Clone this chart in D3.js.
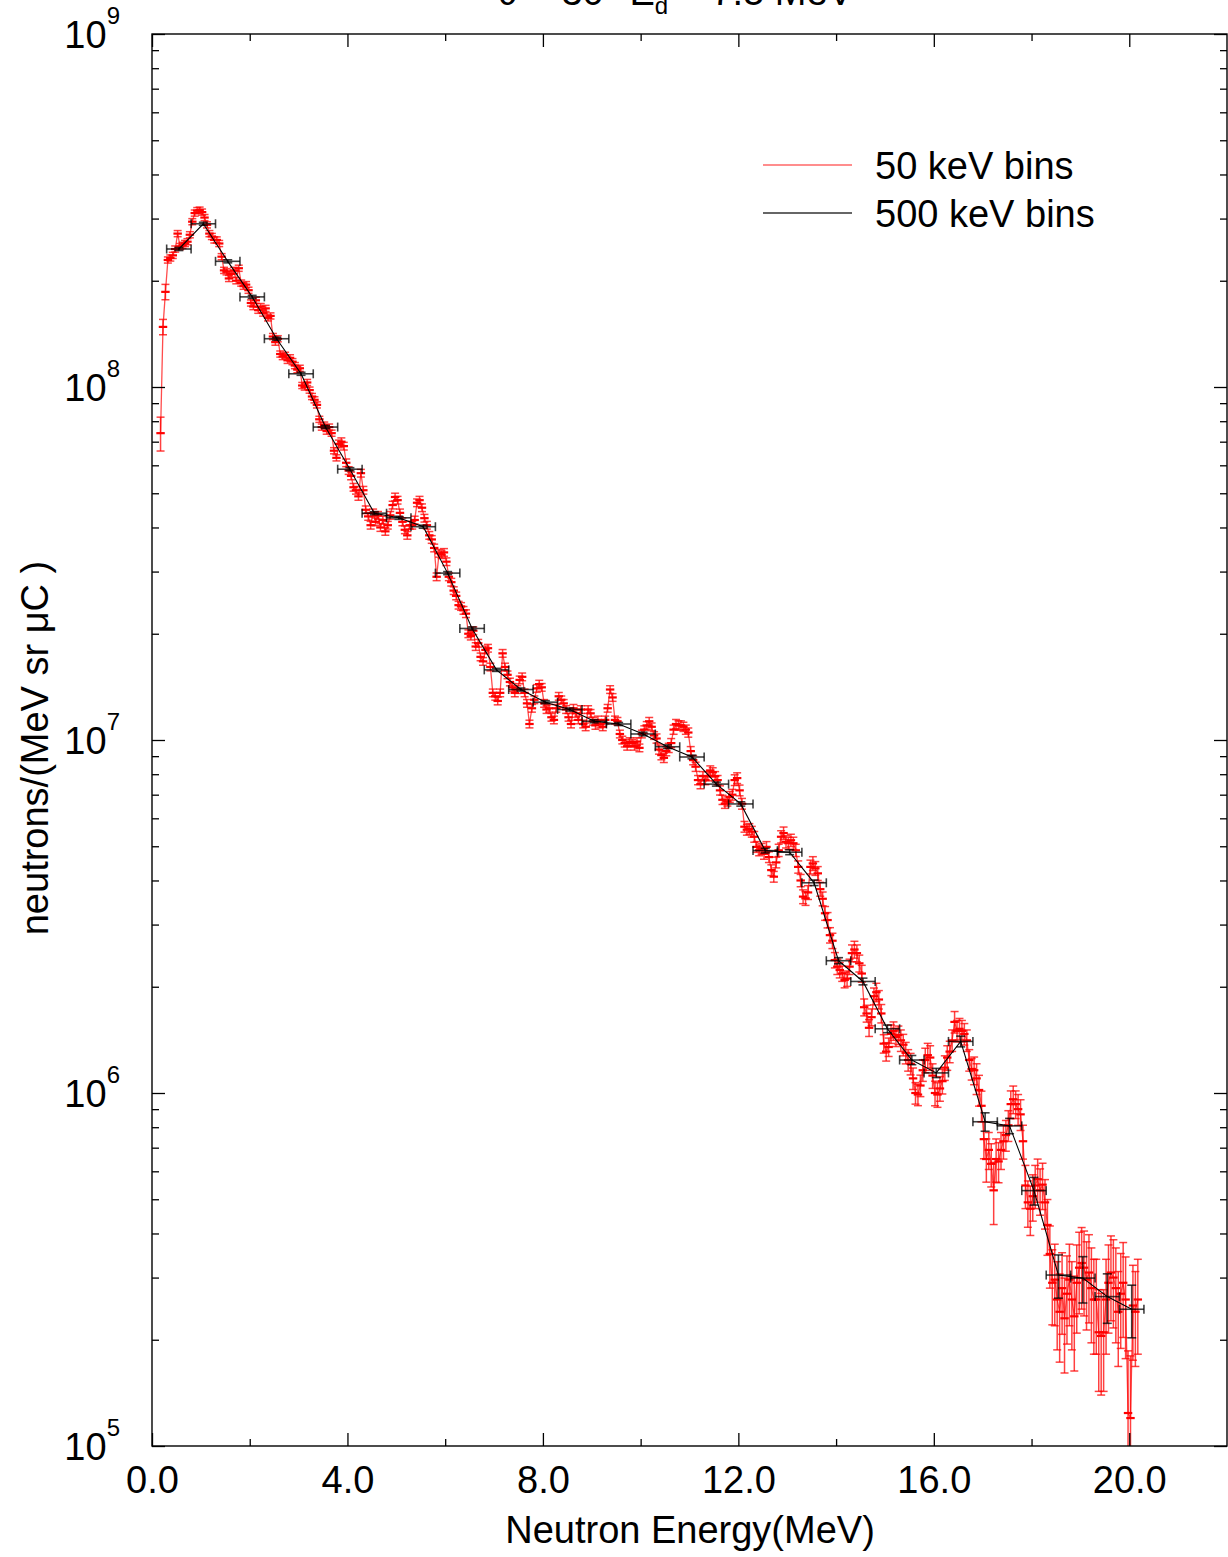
<!DOCTYPE html>
<html>
<head>
<meta charset="utf-8">
<script src="https://cdn.jsdelivr.net/npm/d3@7"></script>
<style>
  body { margin: 0; background: #fff; }
  svg { display: block; }
  text { font-family: "Liberation Sans", Arial, Helvetica, sans-serif; fill: #000; }
</style>
</head>
<body>
<svg></svg>
<script>
const width = 1228;
const height = 1557;

// bin centres (MeV)
const redStart = 0.175, redStep = 0.05;    // 50 keV bins
const blackStart = 0.55, blackStep = 0.5;  // 500 keV bins
const fluxUnit = 1e6;                      // values below are in 1e6 n/(MeV sr uC)

// 50 keV bins, one row per 500 keV block
const redFlux = [
  74, 148, 186,
  229, 232, 236, 246, 272, 250, 252, 255, 258, 270,
  294, 311, 316, 317, 313, 302, 288, 272, 267, 261,
  261, 255, 234, 214, 212, 203, 209, 214, 200, 217,
  197, 193, 195, 188, 173, 169, 176, 165, 169, 162,
  167, 157, 159, 139, 134, 137, 124, 122, 123, 119,
  121, 118, 115, 112, 113, 101, 100, 103, 98, 94,
  92, 89, 81, 77, 78, 75, 77, 74, 66, 63,
  69, 70, 68, 61, 58, 56, 52, 51, 49, 57,
  51, 44.9, 43, 40.6, 44, 41.5, 43.3, 40, 42, 39,
  40.6, 43.3, 46.3, 48.8, 47.8, 44, 41.5, 39.4, 38, 40.6,
  40.6, 42, 47, 47.8, 45.5, 42.5, 40.6, 38, 37, 35,
  29, 33.8, 33.5, 34, 32, 29, 28, 26.5, 25.6, 24.1,
  23.9, 23.3, 22.8, 20, 19.7, 20.4, 18.4, 18.8, 17.2, 16.7,
  18.0, 18.2, 16.1, 13.6, 13.3, 12.9, 13.6, 17.6, 16.1, 15.3,
  14.6, 14.1, 13.6, 13.9, 14.8, 15.1, 13.6, 12.7, 11.1, 12.3,
  13.0, 14.0, 14.4, 14.1, 12.7, 12.2, 12.3, 11.6, 11.4, 12.3,
  13.3, 13.0, 12.7, 12.2, 11.6, 11.1, 12.3, 11.9, 11.4, 12.2,
  11.1, 10.9, 12.2, 11.9, 11.3, 11.0, 11.4, 11.1, 10.9, 11.4,
  12.3, 13.9, 13.2, 11.4, 11.3, 10.4, 10.0, 9.8, 9.6, 9.9,
  9.8, 9.6, 9.9, 9.5, 10.4, 10.7, 11.0, 11.3, 10.9, 10.3,
  10.1, 9.4, 9.06, 8.9, 9.3, 9.5, 9.8, 10.7, 11.1, 11.0,
  11.0, 10.9, 10.7, 10.5, 9.3, 8.77, 8.4, 7.7, 7.5, 7.9,
  7.7, 7.9, 8.2, 8.1, 7.9, 7.7, 7.2, 6.77, 6.6, 6.7,
  6.9, 7.0, 7.7, 7.8, 7.2, 6.6, 5.68, 5.57, 5.6, 5.5,
  5.32, 4.98, 4.87, 4.92, 4.76, 4.98, 4.66, 4.28, 4.1, 4.5,
  4.87, 5.32, 5.45, 5.15, 5.1, 5.2, 5.1, 4.87, 4.37, 4.0,
  3.6, 3.56, 3.7, 4.37, 4.47, 4.33, 4.19, 3.78, 3.55, 3.23,
  3.09, 2.8, 2.7, 2.38, 2.28, 2.23, 2.18, 2.09, 2.11, 2.28,
  2.49, 2.55, 2.49, 2.33, 2.18, 1.75, 1.68, 1.53, 1.64, 1.88,
  1.93, 1.84, 1.68, 1.38, 1.31, 1.35, 1.47, 1.50, 1.44, 1.46,
  1.41, 1.37, 1.30, 1.24, 1.21, 1.10, 1.0, 0.99, 1.05, 1.16,
  1.24, 1.28, 1.26, 1.12, 1.0, 0.99, 1.03, 1.08, 1.18, 1.26,
  1.31, 1.41, 1.59, 1.5, 1.52, 1.5, 1.47, 1.41, 1.24, 1.17,
  1.16, 1.10, 1.02, 0.92, 0.74, 0.65, 0.69, 0.63, 0.53, 0.65,
  0.64, 0.69, 0.73, 0.76, 0.81, 0.93, 0.96, 0.93, 0.90, 0.87,
  0.73, 0.547, 0.49, 0.47, 0.51, 0.547, 0.57, 0.53, 0.55, 0.49,
  0.423, 0.35, 0.29, 0.296, 0.26, 0.24, 0.28, 0.23, 0.27, 0.296,
  0.26, 0.233, 0.29, 0.32, 0.33, 0.32, 0.296, 0.31, 0.28, 0.26,
  0.26, 0.21, 0.205, 0.21, 0.26, 0.29, 0.31, 0.30, 0.28, 0.24,
  0.27, 0.29, 0.26, 0.124, 0.12, 0.25, 0.24, 0.26
];

// relative errors of the 50 keV bins, percent
const redErrPct = [
  11, 5, 5,
  2, 2, 2, 2, 2, 2, 2, 2, 2, 2,
  2, 2, 2, 2, 2, 2, 2, 2, 2, 2,
  2, 2, 2, 2, 2, 2, 2, 2, 2, 2,
  2, 2, 2, 2, 2, 2, 2, 2, 2, 2,
  2, 2, 2, 2, 2, 2, 2, 2, 2, 2,
  2, 2, 2, 2, 2, 2, 2, 2, 2, 2,
  2, 2, 2, 2, 2, 2, 2, 2, 2, 2,
  2.5, 2.5, 2.5, 2.5, 2.5, 2.5, 2.5, 2.5, 2.5, 2.5,
  2.5, 2.5, 2.5, 2.5, 2.5, 2.5, 2.5, 2.5, 2.5, 2.5,
  2.5, 2.5, 2.5, 2.5, 2.5, 2.5, 2.5, 2.5, 2.5, 2.5,
  2.5, 2.5, 2.5, 2.5, 2.5, 2.5, 2.5, 2.5, 2.5, 2.5,
  2.5, 2.5, 2.5, 2.5, 2.5, 2.5, 2.5, 2.5, 2.5, 2.5,
  2.5, 2.5, 2.5, 2.5, 2.5, 2.5, 2.5, 2.5, 2.5, 2.5,
  2.5, 2.5, 2.5, 2.5, 2.5, 2.5, 2.5, 2.5, 2.5, 2.5,
  2.5, 2.5, 2.5, 2.5, 2.5, 2.5, 2.5, 2.5, 2.5, 2.5,
  2.5, 2.5, 2.5, 2.5, 2.5, 2.5, 2.5, 2.5, 2.5, 2.5,
  2.5, 2.5, 2.5, 2.5, 2.5, 2.5, 2.5, 2.5, 2.5, 2.5,
  2.5, 2.5, 2.5, 2.5, 2.5, 2.5, 2.5, 2.5, 2.5, 2.5,
  2.5, 2.5, 2.5, 2.5, 2.5, 2.5, 2.5, 2.5, 2.5, 2.5,
  2.5, 2.5, 2.5, 2.5, 2.5, 2.5, 2.5, 2.5, 2.5, 2.5,
  3, 3, 3, 3, 3, 3, 3, 3, 3, 3,
  3, 3, 3, 3, 3, 3, 3, 3, 3, 3,
  3, 3, 3, 3, 3, 3, 3, 3, 3, 3,
  3.5, 3.5, 3.5, 3.5, 3.5, 3.5, 3.5, 3.5, 3.5, 3.5,
  3.5, 3.5, 3.5, 3.5, 3.5, 3.5, 3.5, 3.5, 3.5, 3.5,
  4, 4, 4, 4, 4, 4, 4, 4, 4, 4,
  4.5, 4.5, 4.5, 4.5, 4.5, 4.5, 4.5, 4.5, 4.5, 4.5,
  5, 5, 5, 5, 5, 5, 5, 5, 5, 5,
  5.5, 5.5, 5.5, 5.5, 5.5, 5.5, 5.5, 5.5, 5.5, 5.5,
  6, 6, 6, 6, 6, 6, 6, 6, 6, 6,
  7, 7, 7, 7, 7, 7, 7, 7, 7, 7,
  8, 8, 8, 8, 8, 8, 8, 8, 8, 8,
  7, 7, 7, 7, 7, 7, 7, 7, 7, 7,
  9, 10, 10, 10, 12, 14, 12, 14, 20, 14,
  13, 12, 11, 10, 10, 9, 9, 9, 10, 10,
  11, 14, 15, 16, 15, 14, 14, 15, 15, 16,
  18, 20, 24, 26, 28, 28, 26, 30, 28, 26,
  28, 30, 28, 26, 26, 27, 28, 28, 30, 30,
  30, 32, 32, 32, 30, 28, 27, 28, 30, 30,
  30, 30, 32, 50, 50, 30, 30, 30
];

// 500 keV bins
const blackFlux = [
  246, 290, 227, 180, 137, 109, 77.0, 58.5, 43.9, 42.6,
  40.2, 29.7, 20.7, 15.8, 13.9, 12.8, 12.2, 11.3, 11.1, 10.4,
  9.57, 8.95, 7.50, 6.59, 4.86, 4.81, 3.94, 2.37, 2.07, 1.52,
  1.24, 1.14, 1.40, 0.829, 0.807, 0.529, 0.305, 0.299, 0.265, 0.244
];
const blackErrPct = [
  1, 1, 1, 1, 1, 1, 1, 1, 1, 1,
  1, 1, 1, 1, 1, 1, 1, 1, 1, 1.2,
  1.2, 1.2, 1.3, 1.4, 1.5, 1.6, 1.8, 2, 2.2, 2.5,
  3, 3, 3.5, 6, 5, 9, 14, 15, 16, 17
];

// axes
const xMajorTicks = [0, 4, 8, 12, 16, 20];
const xMinorTicks = [2, 6, 10, 14, 18];
const yDecades = [5, 6, 7, 8, 9];
const yMantissas = [2, 3, 4, 5, 6, 7, 8, 9];

const legendItems = [
  { label: "50 keV bins", color: "#ff0000" },
  { label: "500 keV bins", color: "#000000" }
];

const svg = d3.select("svg")
  .attr("width", width)
  .attr("height", height);

const plot = { left: 152, right: 1227, top: 34, bottom: 1446 };

const x = d3.scaleLinear().domain([0, 22]).range([plot.left, plot.right]);
const y = d3.scaleLog().domain([1e5, 1e9]).range([plot.bottom, plot.top]);

const red = redFlux.map((v, i) => ({
  e: redStart + i * redStep,
  v: v * fluxUnit,
  err: v * fluxUnit * redErrPct[i] / 100
}));
const black = blackFlux.map((v, i) => ({
  e: blackStart + i * blackStep,
  v: v * fluxUnit,
  err: v * fluxUnit * blackErrPct[i] / 100
}));

svg.append("clipPath").attr("id", "clip")
  .append("rect")
  .attr("x", plot.left).attr("y", plot.top)
  .attr("width", plot.right - plot.left)
  .attr("height", plot.bottom - plot.top);

const line = d3.line().x(d => x(d.e)).y(d => y(d.v));

// 50 keV series
const gRed = svg.append("g").attr("clip-path", "url(#clip)");

gRed.append("path")
  .datum(red)
  .attr("d", line)
  .attr("fill", "none")
  .attr("stroke", "#ff0000")
  .attr("stroke-opacity", 0.7)
  .attr("stroke-width", 1.3);

const redPts = gRed.selectAll("g.rp")
  .data(red)
  .join("g")
  .attr("class", "rp")
  .attr("stroke", "#ff0000")
  .attr("stroke-opacity", 0.75)
  .attr("stroke-width", 1.5);

redPts.append("line")
  .attr("x1", d => x(d.e)).attr("x2", d => x(d.e))
  .attr("y1", d => y(d.v + d.err)).attr("y2", d => y(d.v - d.err));
redPts.append("line")
  .attr("x1", d => x(d.e) - 4).attr("x2", d => x(d.e) + 4)
  .attr("y1", d => y(d.v + d.err)).attr("y2", d => y(d.v + d.err));
redPts.append("line")
  .attr("x1", d => x(d.e) - 4).attr("x2", d => x(d.e) + 4)
  .attr("y1", d => y(d.v - d.err)).attr("y2", d => y(d.v - d.err));
redPts.append("line")
  .attr("x1", d => x(d.e - redStep / 2) - 3).attr("x2", d => x(d.e + redStep / 2) + 3)
  .attr("y1", d => y(d.v)).attr("y2", d => y(d.v))
  .attr("stroke-opacity", 1)
  .attr("stroke-width", 2.2);

// 500 keV series
const gBlack = svg.append("g").attr("clip-path", "url(#clip)");

gBlack.append("path")
  .datum(black)
  .attr("d", line)
  .attr("fill", "none")
  .attr("stroke", "#000")
  .attr("stroke-width", 1.1);

const blackPts = gBlack.selectAll("g.bp")
  .data(black)
  .join("g")
  .attr("class", "bp")
  .attr("stroke", "#000")
  .attr("stroke-opacity", 0.75)
  .attr("stroke-width", 1.6);

blackPts.append("line")
  .attr("x1", d => x(d.e - blackStep / 2)).attr("x2", d => x(d.e + blackStep / 2))
  .attr("y1", d => y(d.v)).attr("y2", d => y(d.v));
blackPts.append("line")
  .attr("x1", d => x(d.e - blackStep / 2)).attr("x2", d => x(d.e - blackStep / 2))
  .attr("y1", d => y(d.v) - 4.5).attr("y2", d => y(d.v) + 4.5);
blackPts.append("line")
  .attr("x1", d => x(d.e + blackStep / 2)).attr("x2", d => x(d.e + blackStep / 2))
  .attr("y1", d => y(d.v) - 4.5).attr("y2", d => y(d.v) + 4.5);
blackPts.append("line")
  .attr("x1", d => x(d.e)).attr("x2", d => x(d.e))
  .attr("y1", d => y(d.v + d.err)).attr("y2", d => y(d.v - d.err));
blackPts.append("line")
  .attr("x1", d => x(d.e) - 4.5).attr("x2", d => x(d.e) + 4.5)
  .attr("y1", d => y(d.v + d.err)).attr("y2", d => y(d.v + d.err));
blackPts.append("line")
  .attr("x1", d => x(d.e) - 4.5).attr("x2", d => x(d.e) + 4.5)
  .attr("y1", d => y(d.v - d.err)).attr("y2", d => y(d.v - d.err));

// Ejes
const yMajor = yDecades.map(p => Math.pow(10, p));
const yMinor = yDecades.slice(0, -1).flatMap(p => yMantissas.map(m => m * Math.pow(10, p)));

function styleAxis(g) {
  g.select(".domain").remove();
  g.selectAll(".tick line").attr("stroke", "#000").attr("stroke-width", 1.3);
}

svg.append("g")
  .attr("transform", `translate(0,${plot.bottom})`)
  .call(d3.axisBottom(x).tickValues(xMajorTicks).tickSize(-13).tickPadding(20)
    .tickFormat(d3.format(".1f")))
  .call(styleAxis)
  .call(g => g.selectAll(".tick text")
    .attr("fill", "#000")
    .style("font-size", "38px")
    .style("font-family", "'Liberation Sans', Arial, sans-serif"));

svg.append("g")
  .attr("transform", `translate(0,${plot.bottom})`)
  .call(d3.axisBottom(x).tickValues(xMinorTicks).tickSize(-7).tickFormat(""))
  .call(styleAxis);

svg.append("g")
  .attr("transform", `translate(0,${plot.top})`)
  .call(d3.axisTop(x).tickValues(xMajorTicks).tickSize(-13).tickFormat(""))
  .call(styleAxis);

svg.append("g")
  .attr("transform", `translate(0,${plot.top})`)
  .call(d3.axisTop(x).tickValues(xMinorTicks).tickSize(-7).tickFormat(""))
  .call(styleAxis);

[[d3.axisLeft, plot.left], [d3.axisRight, plot.right]].forEach(([axis, pos]) => {
  svg.append("g")
    .attr("transform", `translate(${pos},0)`)
    .call(axis(y).tickValues(yMajor).tickSize(-13).tickFormat(""))
    .call(styleAxis);
  svg.append("g")
    .attr("transform", `translate(${pos},0)`)
    .call(axis(y).tickValues(yMinor).tickSize(-7).tickFormat(""))
    .call(styleAxis);
});

// marco
svg.append("rect")
  .attr("x", plot.left).attr("y", plot.top)
  .attr("width", plot.right - plot.left)
  .attr("height", plot.bottom - plot.top)
  .attr("fill", "none")
  .attr("stroke", "#000")
  .attr("stroke-width", 1.4);

// y labels 10^n
const yLabels = svg.append("g");
yDecades.forEach(p => {
  const t = yLabels.append("text")
    .attr("x", 120)
    .attr("y", y(Math.pow(10, p)) + 14)
    .attr("text-anchor", "end")
    .style("font-size", "38px");
  t.append("tspan").text("10");
  t.append("tspan").attr("dy", -24).style("font-size", "24px").text(p);
});

// Etiquetas
svg.append("text")
  .attr("x", 690)
  .attr("y", 1543)
  .attr("text-anchor", "middle")
  .style("font-size", "38px")
  .text("Neutron Energy(MeV)");

svg.append("text")
  .attr("transform", "translate(48,748) rotate(-90)")
  .attr("text-anchor", "middle")
  .style("font-size", "38px")
  .text("neutrons/(MeV sr \u03bcC )");

// title, cut by the top edge as in the original
const title = svg.append("text")
  .attr("x", 497)
  .attr("y", 5)
  .style("font-size", "38px");
title.append("tspan").text("\u03b8 = 30\u00b0 E");
title.append("tspan").attr("dy", 9).style("font-size", "24px").text("d");
title.append("tspan").attr("dy", -9).text(" = 7.5 MeV");

// legend
const legend = svg.append("g");
legendItems.forEach((item, i) => {
  const ly = 165 + i * 48;
  legend.append("line")
    .attr("x1", 763).attr("x2", 852)
    .attr("y1", ly).attr("y2", ly)
    .attr("stroke", item.color)
    .attr("stroke-opacity", i === 0 ? 0.6 : 0.8)
    .attr("stroke-width", 1.5);
  legend.append("text")
    .attr("x", 875)
    .attr("y", ly + 14)
    .style("font-size", "38px")
    .text(item.label);
});
</script>
</body>
</html>
